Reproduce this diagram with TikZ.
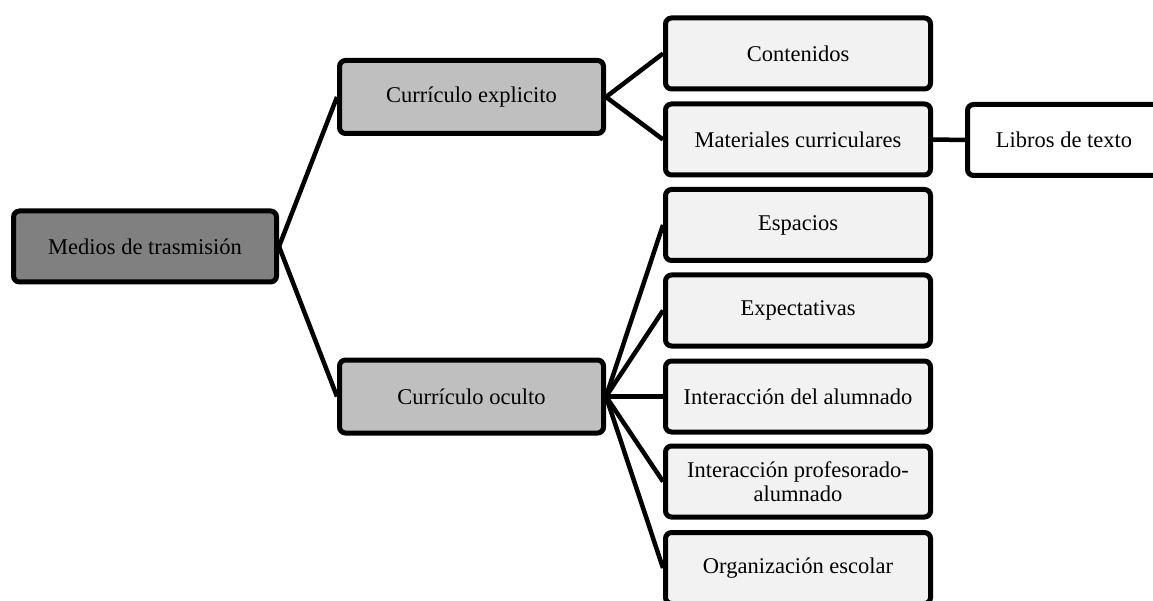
\documentclass[tikz,border=0pt]{standalone}
\usepackage{fontspec}
\setmainfont{Liberation Serif}
\begin{document}
\begin{tikzpicture}[x=1pt,y=-1pt,
  box/.style={draw=black,line width=5pt,rounded corners=6pt,inner sep=0pt,
    minimum width=265pt,minimum height=71pt,align=center,
    font=\fontsize{22.5}{24}\selectfont},
  rootbox/.style={box,fill=gray50,minimum width=263pt},
  midbox/.style={box,fill=gray75,minimum width=264pt,minimum height=73pt},
  leafbox/.style={box,fill=gray95},
  endbox/.style={box,fill=white},
  link/.style={line width=4.5pt}]
\definecolor{gray50}{RGB}{128,128,128}
\definecolor{gray75}{RGB}{191,191,191}
\definecolor{gray95}{RGB}{242,242,242}
\useasboundingbox (0,0) rectangle (1153,601);
% first level
\node[rootbox] (root) at (145,246.5) {Medios de trasmisión};
% second level
\node[midbox] (expl) at (471.5,97) {Currículo explicito};
\node[midbox] (ocul) at (471.5,396.5) {Currículo oculto};
% third level
\node[leafbox] (cont) at (798,53.5) {Contenidos};
\node[leafbox] (mat) at (798,139.5) {Materiales curriculares};
\node[leafbox] (esp) at (798,225) {Espacios};
\node[leafbox] (expc) at (798,310.5) {Expectativas};
\node[leafbox] (ial) at (798,396.5) {Interacción del alumnado};
\node[leafbox] (ipa) at (798,481.5) {Interacción profesorado-\\alumnado};
\node[leafbox] (org) at (798,568) {Organización escolar};
% fourth level, running past the right edge
\node[endbox] (lib) at (1100,140) {\hspace*{-72pt}Libros de texto};
% connectors
\draw[link] (root.east) -- (expl.west);
\draw[link] (root.east) -- (ocul.west);
\draw[link] (expl.east) -- (cont.west);
\draw[link] (expl.east) -- (mat.west);
\draw[link] (mat.east) -- (lib.west);
\foreach \n in {esp,expc,ial,ipa,org}
  \draw[link] (ocul.east) -- (\n.west);
\end{tikzpicture}
\end{document}
